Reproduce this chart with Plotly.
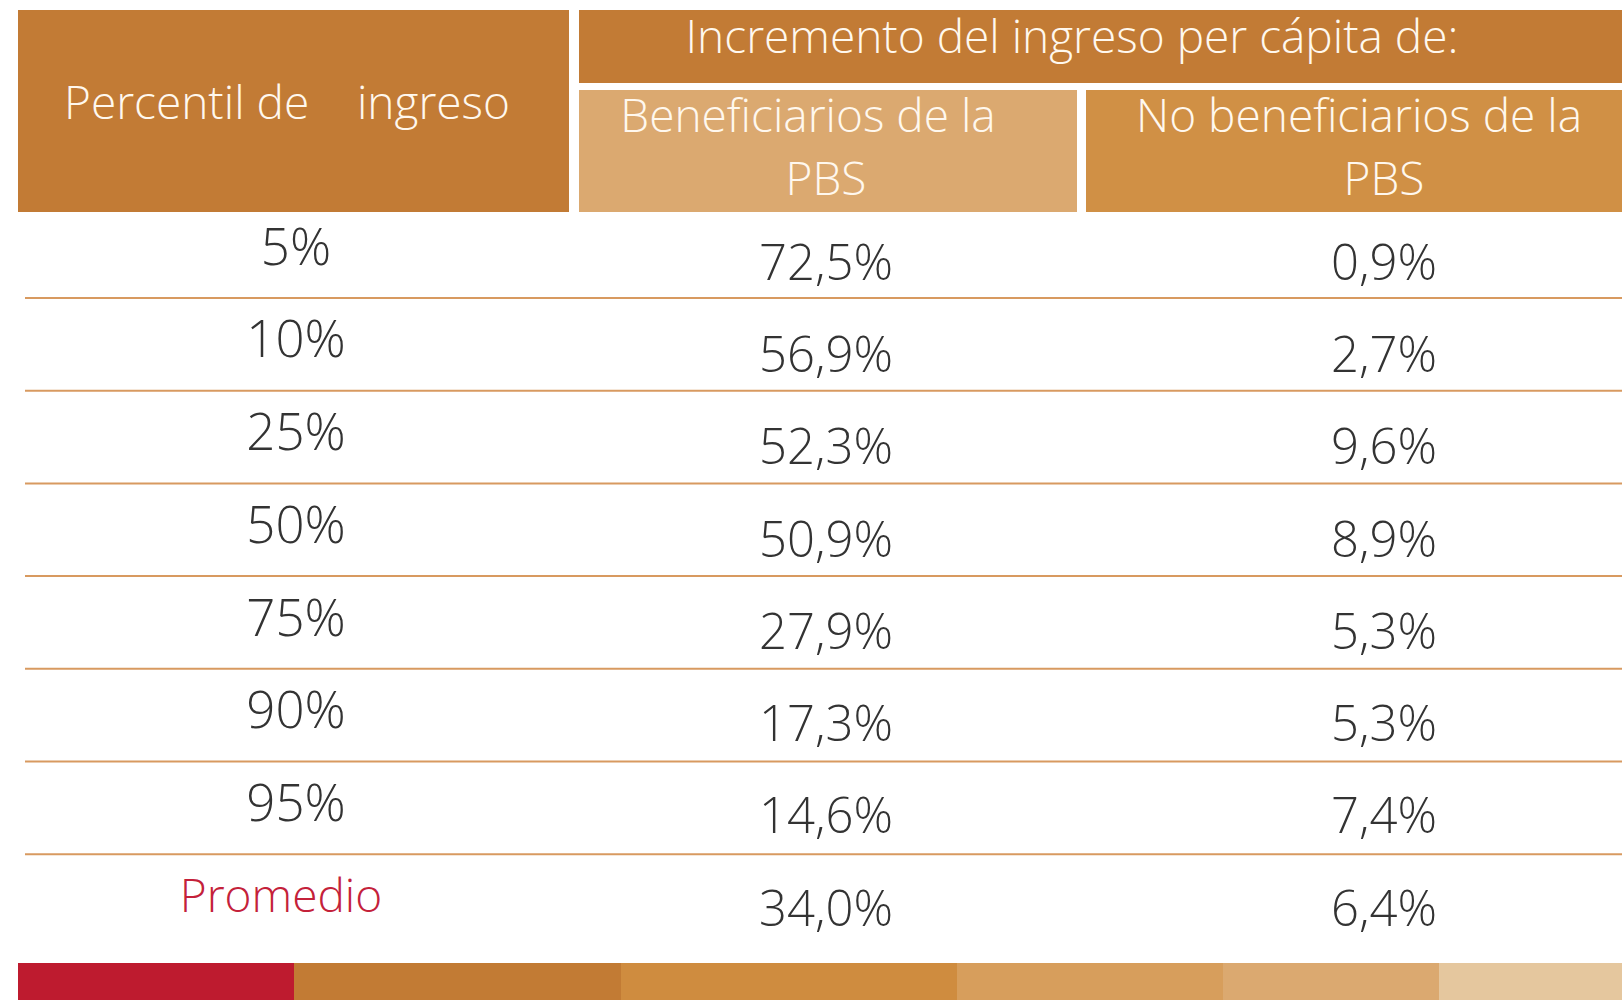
import plotly.graph_objects as go

# ---- data ----
percentiles = ["5%", "10%", "25%", "50%", "75%", "90%", "95%", "Promedio"]
beneficiarios = [72.5, 56.9, 52.3, 50.9, 27.9, 17.3, 14.6, 34.0]
no_beneficiarios = [0.9, 2.7, 9.6, 8.9, 5.3, 5.3, 7.4, 6.4]
header_left = "Percentil de\u00a0\u00a0\u00a0 ingreso"
header_top = "Incremento del ingreso per cápita de:"
header_col_lines = ["Beneficiarios de la", "PBS", "No beneficiarios de la", "PBS"]
bar_colors = ["#BE1B2F", "#C27B34", "#CF8C3F", "#D79E5C", "#DBA970", "#E5C79E"]
bar_edges = [18, 294, 621, 957, 1223, 1439, 1622]

# ---- styles / layout constants ----
W, H = 1622, 1000
C_DARK = "#C27B35"
C_BEN = "#DBA970"
C_NOBEN = "#D09045"
C_LINE = "#D89A60"
C_TEXT = "#333333"
C_RED = "#C4213A"
C_HEAD_TXT = "#FFF8EE"
FONT = "Open Sans"

row_h = 92.7
val_row_h = 92.25
first_val_y = 267.5
first_lab_y = 252
sep_first = 298
col_label_x = 296
col_ben_x = 826
col_noben_x = 1384

def fmt(v):
    return f"{v:.1f}".replace(".", ",") + "%"

fig = go.Figure()
shapes = []

# header boxes
shapes.append(dict(type="rect", x0=18, x1=569, y0=10, y1=212, fillcolor=C_DARK, line_width=0, layer="below"))
shapes.append(dict(type="rect", x0=579, x1=W + 5, y0=10, y1=83, fillcolor=C_DARK, line_width=0, layer="below"))
shapes.append(dict(type="rect", x0=579, x1=1077, y0=90, y1=212, fillcolor=C_BEN, line_width=0, layer="below"))
shapes.append(dict(type="rect", x0=1086, x1=W + 5, y0=90, y1=212, fillcolor=C_NOBEN, line_width=0, layer="below"))

# row separators
for i in range(len(percentiles) - 1):
    y = sep_first + i * row_h
    shapes.append(dict(type="line", x0=25, x1=W + 5, y0=y, y1=y, line=dict(color=C_LINE, width=2)))

# bottom colour bar
for i, c in enumerate(bar_colors):
    shapes.append(dict(type="rect", x0=bar_edges[i], x1=bar_edges[i + 1], y0=963, y1=H + 5,
                       fillcolor=c, line_width=0))

# header texts
fig.add_trace(go.Scatter(
    x=[287, 1072, 808, col_ben_x, 1359, col_noben_x],
    y=[107, 41, 120, 183, 120, 183],
    mode="text",
    text=[header_left, header_top] + header_col_lines,
    textposition="middle center",
    textfont=dict(family=FONT, size=46, color=C_HEAD_TXT, weight=300),
    hoverinfo="skip", showlegend=False,
))

# row labels
n = len(percentiles)
lab_y = [first_lab_y + i * row_h for i in range(n)]
val_y = [first_val_y + i * val_row_h for i in range(n)]
lab_colors = [C_TEXT] * (n - 1) + [C_RED]
lab_sizes = [51] * (n - 1) + [46]
lab_x = [col_label_x] * (n - 1) + [281]
fig.add_trace(go.Scatter(
    x=lab_x, y=lab_y, mode="text", text=percentiles,
    textposition="middle center",
    textfont=dict(family=FONT, size=lab_sizes, color=lab_colors, weight=300),
    hoverinfo="skip", showlegend=False,
))

# values
fig.add_trace(go.Scatter(
    x=[col_ben_x] * n, y=val_y, mode="text", text=[fmt(v) for v in beneficiarios],
    textposition="middle center",
    textfont=dict(family=FONT, size=49, color=C_TEXT, weight=300),
    hoverinfo="skip", showlegend=False,
))
fig.add_trace(go.Scatter(
    x=[col_noben_x] * n, y=val_y, mode="text", text=[fmt(v) for v in no_beneficiarios],
    textposition="middle center",
    textfont=dict(family=FONT, size=49, color=C_TEXT, weight=300),
    hoverinfo="skip", showlegend=False,
))

fig.update_layout(
    width=W, height=H,
    margin=dict(l=0, r=0, t=0, b=0),
    paper_bgcolor="white", plot_bgcolor="white",
    xaxis=dict(range=[0, W], visible=False, fixedrange=True),
    yaxis=dict(range=[H, 0], visible=False, fixedrange=True),
    shapes=shapes,
    showlegend=False,
)

fig.write_html("out.html", config={"displayModeBar": False},
               post_script="document.body.style.margin='0';document.body.style.overflow='hidden';")
